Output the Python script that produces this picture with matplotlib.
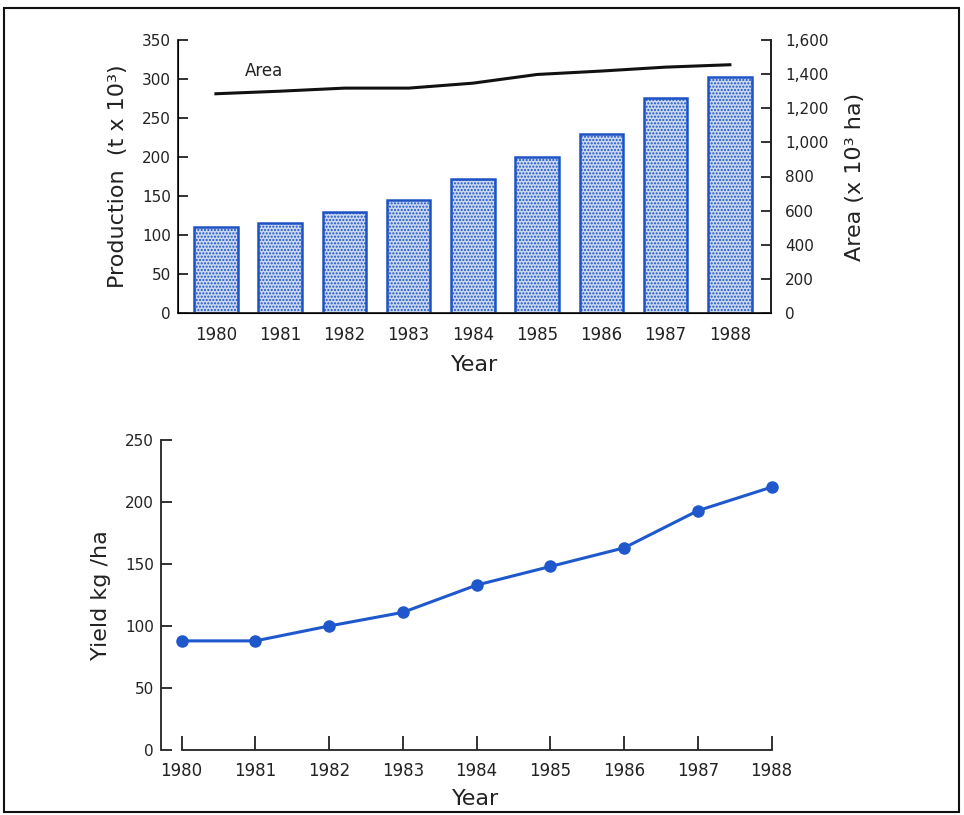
import matplotlib
matplotlib.use("Agg")
import matplotlib.pyplot as plt
from matplotlib.patches import Rectangle
from matplotlib.ticker import FuncFormatter

years = [1980, 1981, 1982, 1983, 1984, 1985, 1986, 1987, 1988]
production = [110, 115, 130, 145, 172, 200, 230, 276, 303]      # t x 10^3
area = [1285, 1300, 1318, 1318, 1347, 1398, 1418, 1441, 1455]  # x 10^3 ha
yield_kg = [88, 88, 100, 111, 133, 148, 163, 193, 212]         # kg/ha

prod_ticks = [0, 50, 100, 150, 200, 250, 300, 350]
area_ticks = [0, 200, 400, 600, 800, 1000, 1200, 1400, 1600]
yield_ticks = [0, 50, 100, 150, 200, 250]

plt.rcParams['font.family'] = ['DejaVu Sans']
plt.rcParams['hatch.color'] = '#6f8fd0'
plt.rcParams['hatch.linewidth'] = 1.0
W, H = 964, 815
fig = plt.figure(figsize=(W / 100, H / 100), dpi=100)
fig.patch.set_facecolor('white')

def fx(px): return px / W
def fy(py): return 1 - py / H

txt = '#222222'
blue_edge = '#1d52c4'
bar_face = '#c9d8f0'
line_blue = '#1f58cc'

# ---------------- top chart ----------------
ax = fig.add_axes([fx(178), fy(313), fx(771) - fx(178), fy(40) - fy(313)])
ax.bar(years, production, width=0.68, facecolor=bar_face, edgecolor=blue_edge,
       linewidth=1.8, hatch='.....', zorder=2)
ax.set_xlim(1979.41, 1988.64)
ax.set_ylim(0, 350)
ax.set_yticks(prod_ticks)
ax.set_xticks(years)
ax.spines['top'].set_visible(False)
for s in ['left', 'bottom', 'right']:
    ax.spines[s].set_linewidth(1.3)
    ax.spines[s].set_color(txt)
ax.tick_params(axis='y', direction='in', length=7, width=1.3, labelsize=11,
               colors=txt, pad=5)
ax.tick_params(axis='x', direction='in', length=5, width=1.0, labelsize=12,
               colors=txt, pad=9)
ax.set_ylabel('Production  (t x 10³)', fontsize=16, color=txt, labelpad=10)
ax.set_xlabel('Year', fontsize=16, color=txt, labelpad=8)

ax2 = ax.twinx()
ax2.plot(years, area, color='#111111', linewidth=2.2, zorder=3)
ax2.set_ylim(0, 1600)
ax2.set_yticks(area_ticks)
ax2.yaxis.set_major_formatter(FuncFormatter(lambda v, p: f'{int(v):,}'))
ax2.spines['top'].set_visible(False)
ax2.spines['right'].set_linewidth(1.3)
ax2.spines['right'].set_color(txt)
ax2.tick_params(axis='y', direction='in', length=7, width=1.3, labelsize=11,
                colors=txt, pad=10)
ax2.set_ylabel('Area (x 10³ ha)', fontsize=16, color=txt, labelpad=12)
ax2.text(1980.45, 1390, 'Area', fontsize=12, color=txt)

# ---------------- bottom chart ----------------
bx = fig.add_axes([fx(161), fy(750), fx(790) - fx(161), fy(440) - fy(750)])
bx.plot(years, yield_kg, color=line_blue, linewidth=2.2, marker='o',
        markersize=8, markerfacecolor=line_blue, markeredgecolor=line_blue)
bx.set_xlim(1979.72, 1988.25)
bx.set_ylim(0, 250)
bx.set_yticks(yield_ticks)
bx.set_xticks(years)
bx.spines['top'].set_visible(False)
bx.spines['right'].set_visible(False)
bx.spines['bottom'].set_bounds(1980, 1988)
for s in ['left', 'bottom']:
    bx.spines[s].set_linewidth(1.3)
    bx.spines[s].set_color(txt)
bx.tick_params(axis='y', direction='in', length=8, width=1.3, labelsize=11,
               colors=txt, pad=5)
bx.tick_params(axis='x', direction='in', length=10, width=1.3, labelsize=12,
               colors=txt, pad=9)
bx.set_ylabel('Yield kg /ha', fontsize=16, color=txt, labelpad=10)
bx.set_xlabel('Year', fontsize=16, color=txt, labelpad=6)

# figure frame
fig.patches.append(Rectangle((fx(4), fy(812)), fx(959) - fx(4), fy(8) - fy(812),
                             transform=fig.transFigure, fill=False,
                             edgecolor='#111111', linewidth=1.5))

fig.savefig('out.png', dpi=100)
